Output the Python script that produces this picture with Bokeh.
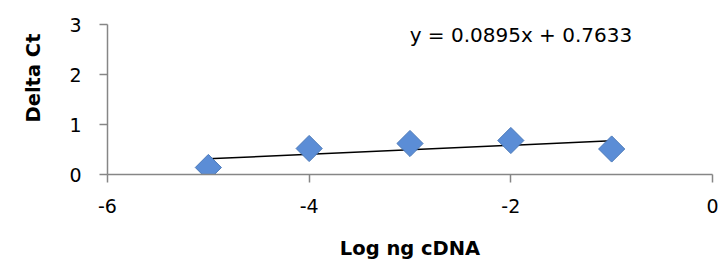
import numpy as np
from bokeh.plotting import figure
from bokeh.models import Range1d, Label, FixedTicker, Title
from bokeh.embed import file_html
from bokeh.resources import INLINE

log_ng = [-5, -4, -3, -2, -1]
delta_ct = [0.14, 0.52, 0.62, 0.68, 0.51]
x_ticks = [-6, -4, -2, 0]
x_tick_labels = ["-6", "-4", "-2", "0"]
y_ticks = [0, 1, 2, 3]
y_tick_labels = ["0", "1", "2", "3"]
equation = "y = 0.0895x + 0.7633"
x_title = "Log ng cDNA"
y_title = "Delta Ct"

FONT = "DejaVu Sans"
AXIS_COLOR = "#868686"

p = figure(width=720, height=263, output_backend="svg", toolbar_location=None,
           x_range=Range1d(-6, 0), y_range=Range1d(0, 3),
           min_border_left=107, min_border_right=8, min_border_top=24, min_border_bottom=89)
p.outline_line_color = None
p.xgrid.visible = False
p.ygrid.visible = False

for ax in (p.xaxis[0], p.yaxis[0]):
    ax.axis_line_color = AXIS_COLOR
    ax.axis_line_width = 1.5
    ax.major_tick_line_color = AXIS_COLOR
    ax.major_tick_line_width = 1.5
    ax.minor_tick_line_color = None
    ax.major_tick_in = 0
    ax.major_tick_out = 8
    ax.major_label_text_font = FONT
    ax.major_label_text_font_size = "19px"
    ax.major_label_text_color = "black"
    ax.axis_label_text_font = FONT
    ax.axis_label_text_font_size = "19.5px"
    ax.axis_label_text_font_style = "bold"
    ax.axis_label_text_color = "black"

p.xaxis.ticker = FixedTicker(ticks=x_ticks)
p.yaxis.ticker = FixedTicker(ticks=y_ticks)
p.xaxis.major_label_overrides = {t: s for t, s in zip(x_ticks, x_tick_labels)}
p.yaxis.major_label_overrides = {t: s for t, s in zip(y_ticks, y_tick_labels)}
p.xaxis.axis_label = x_title
p.xaxis.major_label_standoff = 16
p.xaxis.axis_label_standoff = 21
p.yaxis.major_label_standoff = 18
p.yaxis.major_label_orientation = "horizontal"

# Y axis title, placed like the original (upper part of the axis)
p.add_layout(Title(text=y_title, align="right", offset=9, vertical_align="top",
                   standoff=40, text_font=FONT, text_font_size="19.5px",
                   text_font_style="bold", text_color="black"), "left")

# Linear trend line fitted to the data
slope, intercept = np.polyfit(log_ng, delta_ct, 1)
xs = np.array([min(log_ng), max(log_ng)])
p.line(xs, slope * xs + intercept, line_color="black", line_width=1.5)

# Diamond markers
p.scatter(log_ng, delta_ct, marker="square", size=18.5, angle=np.pi / 4,
          fill_color="#5B8DD6", line_color="#4A78B8", line_width=1)

p.add_layout(Label(x=-1.9, y=2.8, text=equation, text_font=FONT, text_font_size="20px",
                   text_align="center", text_baseline="middle", text_color="black"))

open("out.html", "w").write(file_html(p, INLINE))
